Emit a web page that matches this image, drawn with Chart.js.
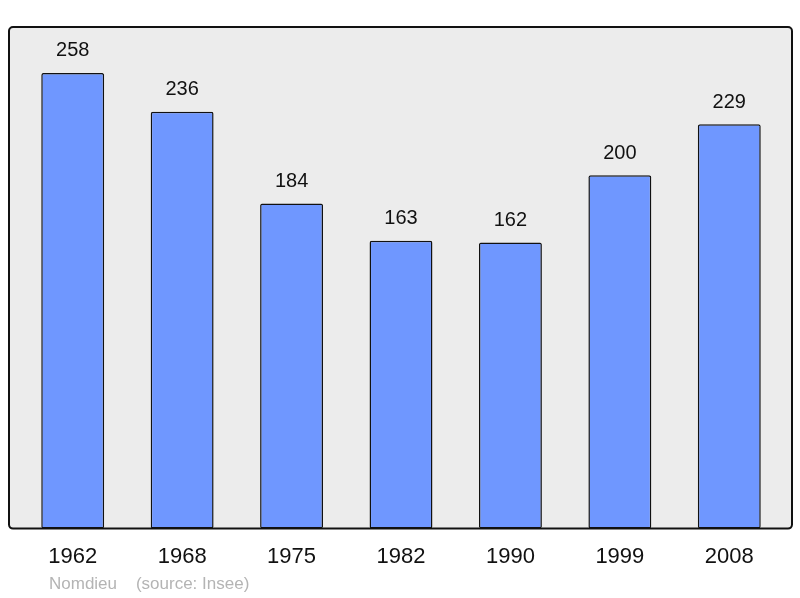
<html>
<head>
    <script src="https://cdn.jsdelivr.net/npm/chart.js@4.4.3/dist/chart.umd.min.js"></script>
    <style>
        body { margin: 0; background: #fff; }
        #wrap { width: 800px; height: 598px; }
    </style>
</head>
<body>
    <div id="wrap"><canvas id="mychart"></canvas></div>
    <script>
        // populations par annee de recensement
        years = ["1962", "1968", "1975", "1982", "1990", "1999", "2008"];
        population = [258, 236, 184, 163, 162, 200, 229];
        yMax = 284;
        footerText = "Nomdieu    (source: Insee)";

        // fond gris + cadre arrondi autour de la zone des barres
        boxPlugin = {
            id: "box",
            beforeDraw: function (chart) {
                var a = chart.chartArea, ctx = chart.ctx;
                var x = a.left - 9, y = a.top, w = a.right - a.left + 17, h = a.bottom - a.top;
                ctx.save();
                ctx.beginPath();
                ctx.roundRect(x, y, w, h, 4);
                ctx.fillStyle = "#ececec";
                ctx.fill();
                ctx.lineWidth = 2;
                ctx.strokeStyle = "#111";
                ctx.stroke();
                ctx.restore();
            },
            afterDatasetsDraw: function (chart) {
                var ctx = chart.ctx;
                var meta = chart.getDatasetMeta(0);
                ctx.save();
                ctx.font = "20px 'Liberation Sans', Arial, sans-serif";
                ctx.fillStyle = "#111";
                ctx.textAlign = "center";
                ctx.textBaseline = "middle";
                meta.data.forEach(function (bar, i) {
                    ctx.fillText(population[i], bar.x, bar.y - 22);
                });
                ctx.font = "17px 'Liberation Sans', Arial, sans-serif";
                ctx.fillStyle = "#b4b4b4";
                ctx.textAlign = "left";
                ctx.fillText(footerText, 49, 584);
                ctx.restore();
            }
        };

        datainfo = {
            labels: years,
            datasets: [{
                label: "population",
                data: population,
                backgroundColor: "#6f97ff",
                borderColor: "#111",
                borderWidth: 1.5,
                borderRadius: 2,
                borderSkipped: false,
                barPercentage: 0.575,
                categoryPercentage: 1
            }]
        };
        config = {
            type: "bar",
            data: datainfo,
            options: {
                responsive: true,
                maintainAspectRatio: false,
                animation: false,
                layout: { padding: { left: 18, right: 16, top: 27, bottom: 21 } },
                plugins: { legend: { display: false }, tooltip: { enabled: false } },
                scales: {
                    x: {
                        grid: { display: false },
                        border: { display: false },
                        ticks: {
                            color: "#111",
                            padding: 7,
                            font: { size: 22, family: "'Liberation Sans', Arial, sans-serif" }
                        }
                    },
                    y: { display: false, min: 0, max: yMax }
                }
            },
            plugins: [boxPlugin]
        };
        new Chart(document.querySelector("#mychart"), config);
    </script>
</body>
</html>
